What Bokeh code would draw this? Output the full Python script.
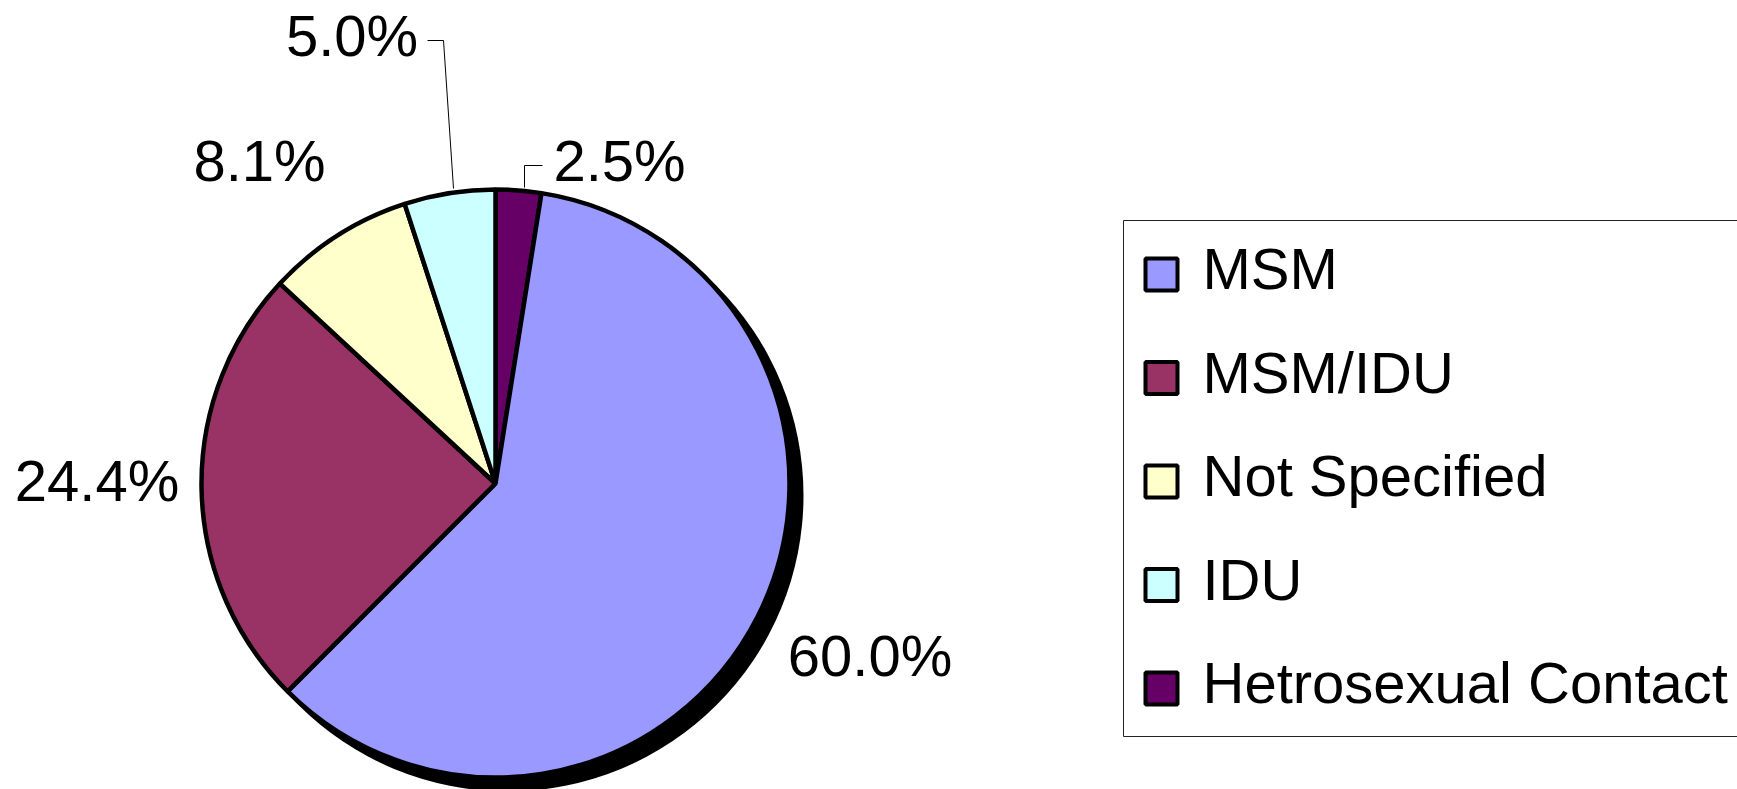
import math
from bokeh.plotting import figure
from bokeh.models import Range1d
from bokeh.core.properties import value
from bokeh.embed import file_html
from bokeh.resources import INLINE

# ---------------- data ----------------
categories = ["MSM", "MSM/IDU", "Not Specified", "IDU", "Hetrosexual Contact"]
percent = [60.0, 24.4, 8.1, 5.0, 2.5]
colors = ["#9999FF", "#993366", "#FFFFCC", "#CCFFFF", "#660066"]
label_text = ["60.0%", "24.4%", "8.1%", "5.0%", "2.5%"]
# slices are laid out clockwise starting at 12 o'clock in this order
clockwise_order = [4, 0, 1, 2, 3]

# ---------------- layout (reference pixel coordinates) ----------------
W, H = 1737, 789
OX, OY = 0, 0
CX, CY, R = 495, 483, 294
SHADOW_DX, SHADOW_DY = 12, 12
FONT = value("Liberation Sans")
FSIZE = "58px"
TEXT_SHIFT = 22  # renderer places alphabetic baseline lower; compensate
label_pos = {0: (869.5, 677), 1: (96.5, 502), 2: (259, 182), 3: (351.5, 57), 4: (619, 182)}
leaders = {3: [(427, 40), (443, 40), (453, 188)], 4: [(542, 165), (524, 165), (524, 187)]}
LEG_SQ_X, LEG_TXT_X, LEG_Y0, LEG_STEP, LEG_SQ = 1161, 1202, 274, 103.5, 32
LEG_BOX = (1123, 220, 1800, 736)


def Y(y):
    return -y


p = figure(width=W, height=H,
           x_range=Range1d(OX, OX + W), y_range=Range1d(-(OY + H), -OY),
           output_backend="svg", toolbar_location=None, min_border=0,
           x_axis_location=None, y_axis_location=None)
p.outline_line_color = None
p.grid.visible = False
p.background_fill_color = "white"
p.border_fill_color = "white"

# shadow
p.circle(x=[CX + SHADOW_DX], y=[Y(CY + SHADOW_DY)], radius=R + 2,
         fill_color="black", line_color=None)

# wedges
starts, ends, fills = [], [], []
theta = 0.0
for idx in clockwise_order:
    t1 = theta
    t2 = theta + percent[idx] * 3.6
    starts.append(math.radians(90 - t2))
    ends.append(math.radians(90 - t1))
    fills.append(colors[idx])
    theta = t2
p.wedge(x=[CX] * len(starts), y=[Y(CY)] * len(starts), radius=R,
        start_angle=starts, end_angle=ends, fill_color=fills,
        line_color="black", line_width=4.5)

# leader lines
for idx, pts in leaders.items():
    p.line(x=[a for a, b in pts], y=[Y(b) for a, b in pts],
           line_color="black", line_width=1)

# percentage labels
lx = [label_pos[i][0] for i in range(len(label_text))]
ly = [Y(label_pos[i][1] - TEXT_SHIFT) for i in range(len(label_text))]
p.text(x=lx, y=ly, text=label_text, text_font=FONT, text_font_size=FSIZE,
       text_align="center", text_baseline="alphabetic", text_color="black")

# legend box
p.quad(left=[LEG_BOX[0]], right=[LEG_BOX[2]], top=[Y(LEG_BOX[1])], bottom=[Y(LEG_BOX[3])],
       fill_color=None, line_color="#222222", line_width=1)

ly_leg = [LEG_Y0 + i * LEG_STEP for i in range(len(categories))]
p.rect(x=[LEG_SQ_X] * len(categories), y=[Y(v) for v in ly_leg],
       width=LEG_SQ, height=LEG_SQ, fill_color=colors, line_color="black", line_width=4)
p.text(x=[LEG_TXT_X] * len(categories), y=[Y(v + 16 - TEXT_SHIFT) for v in ly_leg],
       text=categories, text_font=FONT, text_font_size=FSIZE, text_align="left",
       text_baseline="alphabetic", text_color="black")

open("out.html", "w").write(file_html(p, INLINE))
